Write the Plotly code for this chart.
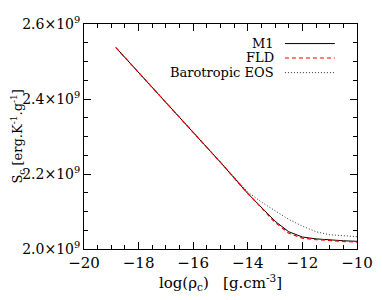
import plotly.graph_objects as go

# Data
log_rho = [-18.83, -18.0, -17.0, -16.0, -15.0, -14.0, -13.5, -13.0, -12.5, -12.0, -11.5, -11.0, -10.5, -10.0]
s_m1 = [2.537e9, 2.471e9, 2.391e9, 2.311e9, 2.231e9, 2.148e9, 2.112e9, 2.074e9, 2.046e9, 2.032e9, 2.027e9, 2.024e9, 2.022e9, 2.0205e9]
s_fld = [2.537e9, 2.471e9, 2.391e9, 2.311e9, 2.231e9, 2.148e9, 2.110e9, 2.071e9, 2.042e9, 2.029e9, 2.025e9, 2.023e9, 2.020e9, 2.018e9]
s_baro = [2.537e9, 2.471e9, 2.391e9, 2.311e9, 2.231e9, 2.152e9, 2.125e9, 2.101e9, 2.079e9, 2.061e9, 2.046e9, 2.038e9, 2.035e9, 2.033e9]

y_ticks = [2.0e9, 2.2e9, 2.4e9, 2.6e9]
y_tick_labels = ["2.0×10<sup>9</sup>", "2.2×10<sup>9</sup>", "2.4×10<sup>9</sup>", "2.6×10<sup>9</sup>"]
x_ticks = [-20, -18, -16, -14, -12, -10]
x_tick_labels = ["−20", "−18", "−16", "−14", "−12", "−10"]
legend_names = ["M1", "FLD", "Barotropic EOS"]

FONT = "DejaVu Serif, Liberation Serif, serif"

fig = go.Figure()
fig.add_trace(go.Scatter(x=log_rho, y=s_baro, mode="lines", name=legend_names[2],
                         line=dict(color="#333333", width=1, dash="1px,2px")))
fig.add_trace(go.Scatter(x=log_rho, y=s_m1, mode="lines", name=legend_names[0],
                         line=dict(color="black", width=1)))
fig.add_trace(go.Scatter(x=log_rho, y=s_fld, mode="lines", name=legend_names[1],
                         line=dict(color="red", width=1.2, dash="4px,3px")))

axis_common = dict(
    showline=True, linecolor="black", linewidth=1, mirror="ticks",
    ticks="inside", tickcolor="black", ticklen=7, tickwidth=1,
    showgrid=False, zeroline=False, automargin=False,
)

fig.update_xaxes(
    range=[-20, -10], tickvals=x_ticks, ticktext=x_tick_labels,
    tickfont=dict(family=FONT, size=15, color="black"),
    minor=dict(ticks="inside", dtick=0.5, ticklen=4, tickcolor="black", showgrid=False),
    title=dict(text="log(ρ<sub>c</sub>)   [g.cm<sup>-3</sup>]", font=dict(family=FONT, size=15, color="black"), standoff=1),
    **axis_common,
)
fig.update_yaxes(
    range=[2.0e9, 2.6e9], tickvals=y_ticks, ticktext=y_tick_labels,
    tickfont=dict(family=FONT, size=14, color="black"),
    minor=dict(ticks="inside", dtick=0.05e9, ticklen=4, tickcolor="black", showgrid=False),
    **axis_common,
)

# Y-axis title as a rotated annotation, placed like the reference
fig.add_annotation(xref="paper", yref="paper", x=-0.245, y=0.5, textangle=-90,
                   text="S<sub>c</sub> [erg.K<sup>-1</sup>.g<sup>-1</sup>]", showarrow=False,
                   xanchor="center", yanchor="middle",
                   font=dict(family=FONT, size=13, color="black"))

# Legend drawn IDL-style: text on the left, line sample on the right
leg_y = [0.913, 0.849, 0.784]
leg_styles = [dict(color="black", width=1),
              dict(color="red", width=1.2, dash="4px,3px"),
              dict(color="#333333", width=1, dash="1px,2px")]
for name, yy, st in zip(legend_names, leg_y, leg_styles):
    fig.add_annotation(xref="paper", yref="paper", x=0.70, y=yy, text=name, showarrow=False,
                       xanchor="right", yanchor="middle", borderpad=0,
                       font=dict(family=FONT, size=13, color="black"))
    fig.add_shape(type="line", xref="paper", yref="paper", x0=0.736, x1=0.919, y0=yy, y1=yy, line=st)

# The page body adds an 8px margin, so the figure is 8px smaller to fit the window
fig.update_layout(
    width=374, height=292,
    margin=dict(l=76, r=25, t=16, b=51),
    plot_bgcolor="white", paper_bgcolor="white",
    showlegend=False,
    font=dict(family=FONT, size=15, color="black"),
)

fig.write_html("out.html")
